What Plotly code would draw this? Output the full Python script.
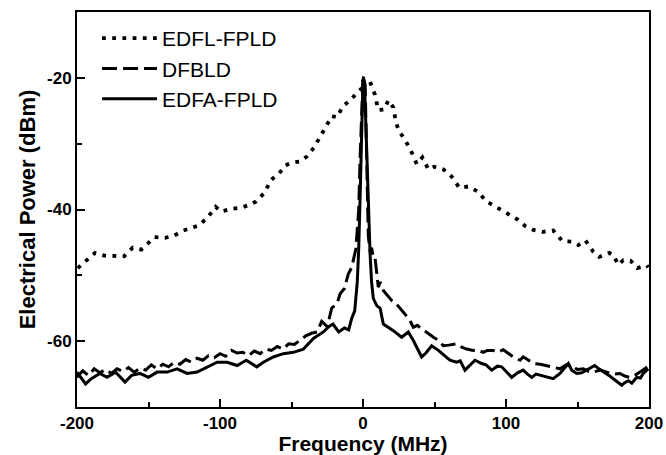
import plotly.graph_objects as go

# EDFL-FPLD (dotted)
edfl_x = [-199.5,-193,-187.4,-181,-175,-167,-161,-155,-150.6,-146,-138.5,-132.4,-125.7,-121,-114.5,-108.7,-103,-99.5,
          -91.8,-84.8,-79.5,-75,-69,-64.3,-58.5,-54.5,-49.9,-44,-39,-34.3,-29.6,-25.4,-21.9,-18.2,-13.8,-9.1,-4.4,-0.9,
          0.5,4.9,8.4,10.7,14.9,17.7,21.2,23.1,25.2,29.4,34,37.6,41.5,45.7,49.7,56.2,62,67.4,73.6,80.6,85.8,91.1,99.3,
          108,113.3,119.1,125.4,133.1,139.4,146.2,150.6,155.5,161,165.2,172.2,175,178.5,182,187.2,191.8,198.4,199.5]
edfl_y = [-48.9,-47.6,-46.6,-47.0,-47.0,-47.1,-45.8,-46.1,-45.2,-44.2,-44.3,-44.0,-43.2,-42.9,-42.4,-41.2,-39.6,-40.3,
          -39.9,-39.7,-39.3,-38.8,-37.5,-35.5,-34.5,-33.3,-32.9,-32.7,-31.9,-30.6,-28.9,-27.2,-25.8,-26.0,-24.2,-23.5,-22.3,-21.6,
          -20.1,-20.6,-22.6,-24.9,-24.8,-23.4,-24.5,-26.8,-28.1,-29.4,-31.3,-33.1,-32.1,-33.9,-33.5,-33.9,-35.0,-36.7,-36.5,
          -37.3,-38.7,-39.4,-40.5,-41.5,-42.5,-43.1,-43.4,-43.2,-44.8,-44.9,-45.4,-44.7,-46.4,-47.2,-46.6,-46.9,-48.4,-47.7,
          -47.8,-48.9,-48.5,-48.8]

# DFBLD (dashed)
dfb_x = [-200,-196,-192,-188,-184,-180,-176,-172,-168,-164,-160,-156,-152,-148,-144,-140,-136,-132,-128,-124,-120,-116,
         -112,-108,-104,-100,-96,-92,-88,-84,-80,-76,-72,-68,-64,-60,-56,-52,-48,-44,-40,-36,-32,-28.9,-25,-21.9,-18,-16,
         -13,-10.3,-7.9,-5,-3,-2,-1,0,1.5,2.5,3.7,5,6,7.2,8.4,10.7,12,14.2,17,20,22.4,26,29.4,32.9,35.2,38,41,45,49.2,53,
         56.2,60,65.5,69,72.5,77,80,84.1,87,91.1,94,98.1,101,105.1,109.8,112,114.5,119,124,128.5,133,137.8,142,147,150,
         154,158,161,166,170.4,175,179.7,183,186.7,190,193.7,196,199.5]
dfb_y = [-65.5,-64.5,-65.2,-64.2,-64.8,-64.3,-64.9,-64.2,-64.6,-64.0,-64.7,-64.1,-64.4,-63.6,-64.2,-63.5,-63.9,-63.2,
         -63.5,-62.8,-63.2,-62.6,-62.9,-62.2,-62.5,-61.9,-62.3,-61.4,-61.8,-61.7,-62.2,-61.5,-61.9,-61.2,-61.4,-60.8,-61.2,
         -60.4,-60.5,-59.9,-59.2,-58.8,-58.6,-57.0,-57.8,-55.0,-54.2,-52.8,-52.0,-49.8,-48.8,-46.0,-40.0,-32.0,-24.0,-20.0,
         -21.0,-30.0,-44.0,-46.5,-45.8,-47.3,-47.3,-51.8,-51.0,-52.3,-53.0,-53.8,-54.1,-55.0,-55.9,-56.9,-57.9,-57.6,-58.1,
         -58.8,-59.4,-59.9,-60.7,-60.6,-60.4,-60.9,-61.2,-61.4,-61.3,-61.7,-61.4,-61.4,-61.7,-61.3,-61.8,-62.4,-62.9,-62.4,
         -62.7,-63.4,-63.5,-63.7,-64.0,-64.2,-63.6,-63.9,-64.3,-64.2,-64.6,-64.7,-64.4,-64.7,-65.0,-64.9,-65.3,-65.5,-65.2,
         -64.7,-64.3,-63.8]

# EDFA-FPLD (solid)
edfa_x = [-200,-194,-190,-184,-179,-173,-166.4,-161.8,-156,-150,-144,-137,-130,-123,-116,-109,-102,-95,-88,-81.6,-74.3,
          -69.7,-62.7,-55.7,-48.7,-41.7,-34.7,-27.7,-24,-21,-17,-13,-10,-8,-5.8,-4,-3,-2,-1,0,1,2,3,4,5,6,7.2,9.6,12,14.2,
          17,21.2,27,31.7,35.2,38,41,44,48,52.7,56,60.8,65.5,68,71.3,74,78.3,83,86,90,94,97,100,104,108,112,115,118,121,
          125,129,133,137.8,141,143.6,146,149.4,153,156.4,159,162,165,169,172,175,178,181,183,185.6,188,191.4,194,196,199.5]
edfa_y = [-64.7,-66.5,-65.7,-64.9,-65.5,-64.7,-66.2,-65.2,-64.9,-65.5,-64.7,-64.7,-64.2,-64.9,-64.7,-63.9,-63.2,-63.2,
          -63.7,-62.9,-63.9,-63.2,-62.4,-61.9,-61.7,-61.2,-59.6,-58.6,-57.8,-57.4,-58.6,-58.0,-58.3,-56.6,-55.4,-51.0,-46.0,
          -38.0,-28.0,-20.3,-20.5,-27.0,-35.0,-42.0,-47.0,-51.0,-53.5,-54.6,-55.0,-57.4,-57.8,-58.4,-59.4,-58.6,-59.9,-61.0,
          -62.4,-61.8,-60.7,-61.4,-62.0,-62.9,-63.2,-63.0,-64.4,-63.8,-62.9,-63.4,-63.6,-64.4,-63.8,-63.9,-64.6,-65.5,-64.8,
          -64.4,-65.0,-65.5,-65.0,-65.2,-65.5,-65.7,-64.9,-64.0,-63.4,-64.4,-64.9,-64.8,-64.4,-64.0,-63.7,-64.2,-64.7,-65.2,
          -65.7,-66.2,-66.7,-66.3,-66.0,-66.4,-65.5,-65.6,-64.9,-64.2]

x_ticks = [-200, -100, 0, 100, 200]
y_ticks = [-60, -40, -20]

FONT = "Liberation Sans, Arial"

fig = go.Figure()
fig.add_trace(go.Scatter(x=edfl_x, y=edfl_y, mode="lines", name="EDFL-FPLD",
                         line=dict(color="black", width=3.8, dash="3.8px,6.4px")))
fig.add_trace(go.Scatter(x=dfb_x, y=dfb_y, mode="lines", name="DFBLD",
                         line=dict(color="black", width=3, dash="15px,6px")))
fig.add_trace(go.Scatter(x=edfa_x, y=edfa_y, mode="lines", name="EDFA-FPLD",
                         line=dict(color="black", width=3)))

axis_common = dict(showgrid=False, zeroline=False, showline=True, linecolor="black", linewidth=2,
                   mirror=True, ticks="inside", ticklen=8, tickwidth=1.5, tickcolor="black",
                   automargin=False,
                   tickfont=dict(family=FONT, size=17, color="black", weight="bold"))

fig.update_xaxes(range=[-200, 200], tickvals=x_ticks, ticktext=[str(v) for v in x_ticks],
                 minor=dict(tickvals=[-150, -50, 50, 150], ticks="inside", ticklen=5, tickcolor="black", tickwidth=1.5),
                 title=dict(text="<b>Frequency (MHz)</b>", standoff=11,
                            font=dict(family=FONT, size=21, color="black")),
                 **axis_common)
fig.update_yaxes(range=[-70, -10], tickvals=y_ticks, ticktext=[str(v) for v in y_ticks],
                 minor=dict(tickvals=[-50, -30], ticks="inside", ticklen=5, tickcolor="black", tickwidth=1.5),
                 title=dict(text="<b>Electrical Power (dBm)</b>", standoff=5,
                            font=dict(family=FONT, size=22, color="black")),
                 **axis_common)

fig.update_layout(
    width=666, height=455,
    margin=dict(l=77, r=17, t=12, b=48),
    paper_bgcolor="white", plot_bgcolor="white",
    showlegend=True,
    legend=dict(x=0.035, y=0.985, xanchor="left", yanchor="top", bgcolor="rgba(0,0,0,0)",
                font=dict(family=FONT, size=21, color="black"),
                itemwidth=55, tracegroupgap=0),
)

fig.write_html("out.html")
